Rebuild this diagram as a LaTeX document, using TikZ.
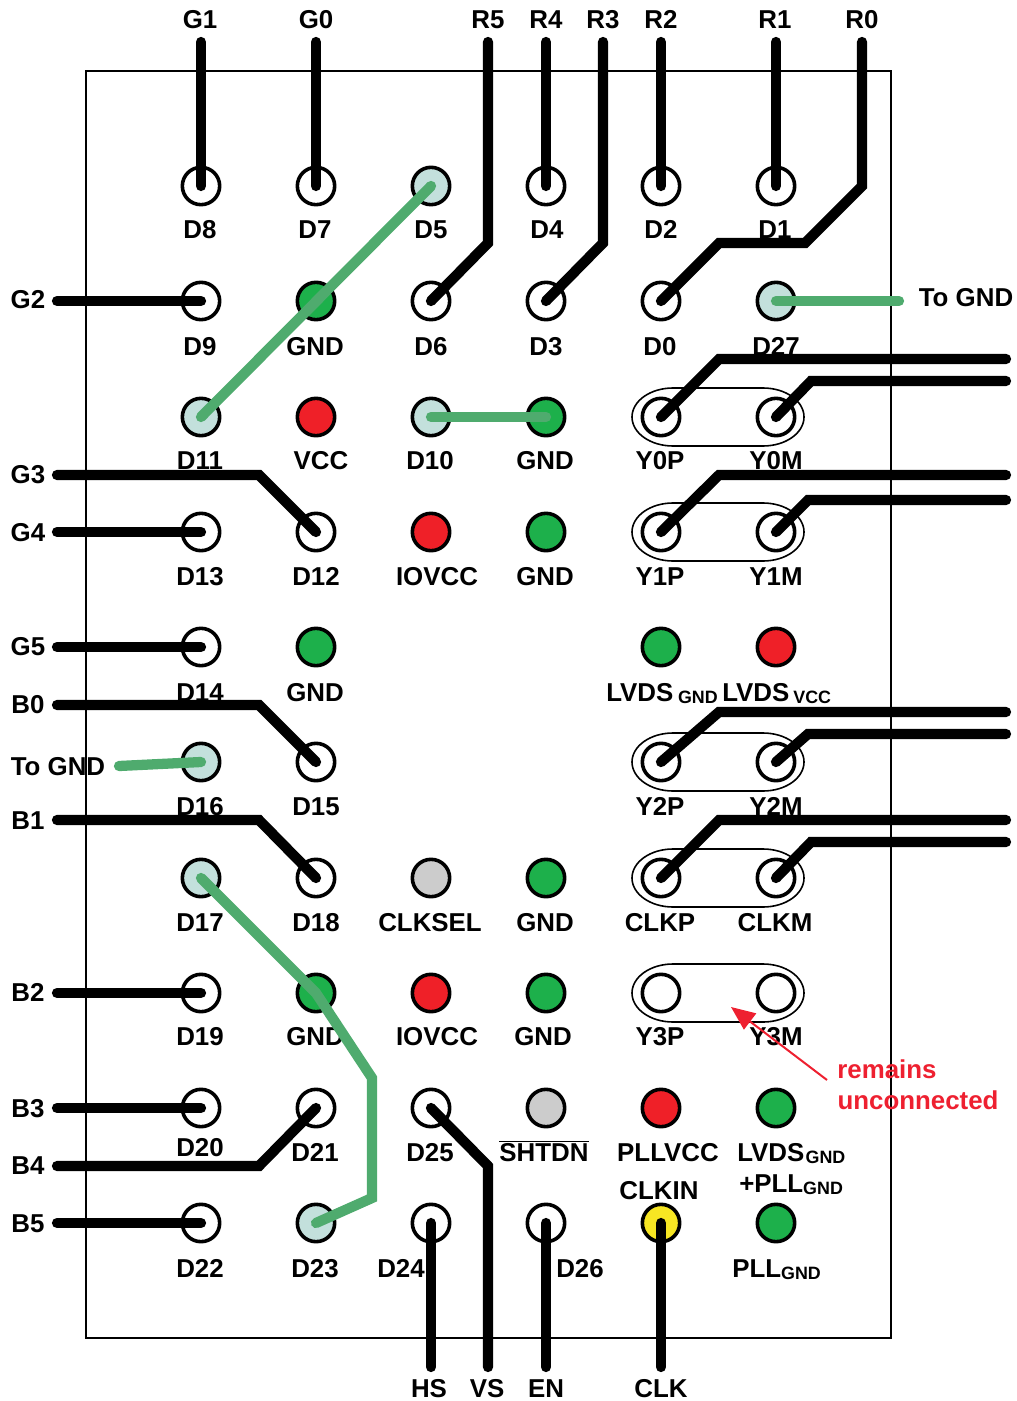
\documentclass[tikz,border=0pt]{standalone}
\usepackage{fontspec}
\setmainfont{Liberation Sans}
\usetikzlibrary{arrows.meta}
\definecolor{padgreen}{HTML}{1DB04B}
\definecolor{padred}{HTML}{EF2028}
\definecolor{padgrey}{HTML}{CCCCCC}
\definecolor{padyellow}{HTML}{F7E623}
\definecolor{padpale}{HTML}{C3E0DC}
\definecolor{wiregreen}{HTML}{4FAB6E}
\definecolor{notered}{HTML}{EE2030}
\newcommand{\subtxt}[1]{\raisebox{-2.2pt}{\fontsize{13.4}{13.4}\selectfont #1}}
\newcommand{\pairloop}[2]{\draw[pairline] ([shift={(12,-29)}]#1.center) -- ([shift={(-13,-29)}]#2.center)
  arc[start angle=-90,end angle=90,x radius=41,y radius=29]
  -- ([shift={(12,29)}]#1.center)
  arc[start angle=90,end angle=270,x radius=41,y radius=29] -- cycle;}
\tikzset{
  frameline/.style={draw=black,line width=1.9pt},
  pad/.style={circle,draw=black,line width=2.7pt,minimum size=28pt,inner sep=0pt},
  lab/.style={font=\fontsize{19.4}{19.4}\selectfont\bfseries,anchor=base,inner sep=0pt},
  labw/.style={lab,anchor=base west},
  redlab/.style={lab,text=notered},
  wire/.style={draw=black,line width=7.7pt,line cap=round,line join=miter},
  gwire/.style={draw=wiregreen,line width=7.7pt,line cap=round,line join=miter},
  pairline/.style={draw=black,line width=1.2pt},
  notearrow/.style={draw=notered,line width=1.5pt,-{Triangle[length=18pt,width=15pt]}}
}
\begin{document}
\begin{tikzpicture}[x=0.75pt,y=-0.75pt]
\useasboundingbox (0,0) rectangle (1016,1401);
\node[draw=none,inner sep=0pt,minimum width=603.75pt,minimum height=950.25pt,frameline] (board) at (488.5,704.5) {};

% labels
\foreach \n/\x/\y/\t in {
 lg1/200/29/G1, lg0/316/29/G0, lr5/488/29/R5, lr4/546/29/R4, lr3/603/29/R3, lr2/661/29/R2, lr1/775/29/R1, lr0/862/29/R0,
 ld8/200/239/D8, ld7/315/239/D7, ld5/431/239/D5, ld4/547/239/D4, ld2/661/239/D2, ld1/775/239/D1,
 lg2/28/309/G2, ld9/200/355/D9, lgnda/315/355/GND, ld6/431/355/D6, ld3/546/355/D3, ld0/660/355/D0, ld27/776/355/D27, ltoa/966/306/To GND,
 ld11/200/469/D11, lvcc/321/469/VCC, ld10/430/469/D10, lgndb/545/469/GND, ly0p/660/469/Y0P, ly0m/776/469/Y0M,
 lg3/28/483/G3, lg4/28/541/G4, ld13/200/585/D13, ld12/316/585/D12, liova/437/585/IOVCC, lgndc/545/585/GND, ly1p/660/585/Y1P, ly1m/776/585/Y1M,
 lg5/28/655/G5, ld14/200/701/D14, lgndd/315/701/GND,
 lb0/28/713/B0, ltob/58/775/To GND, ld16/200/815/D16, ld15/316/815/D15, ly2p/660/815/Y2P, ly2m/776/815/Y2M, lb1/28/829/B1,
 ld17/200/931/D17, ld18/316/931/D18, lcks/430/931/CLKSEL, lgnde/545/931/GND, lckp/660/931/CLKP, lckm/775/931/CLKM,
 lb2/28/1001/B2, ld19/200/1045/D19, lgndf/315/1045/GND, liovb/437/1045/IOVCC, lgndg/543/1045/GND, ly3p/660/1045/Y3P, ly3m/776/1045/Y3M,
 lb3/28/1117/B3, lb4/28/1174/B4, lb5/28/1232/B5, ld20/200/1156/D20, ld21/315/1161/D21, ld25/430/1161/D25, lpllv/668/1161/PLLVCC, lckin/659/1199/CLKIN,
 ld22/200/1277/D22, ld23/315/1277/D23, ld24/401/1277/D24, ld26/580/1277/D26,
 lhs/429/1397/HS, lvs/487/1397/VS, len/546/1397/EN, lclk/661/1397/CLK}
 {\node[lab] (\n) at (\x,\y) {\t};}
\node[lab] (lshtdn) at (544,1161) {$\overline{\hbox{SHTDN}}$};
\node[labw] (llvga) at (606,701) {LVDS\hspace{3.5pt}\subtxt{GND}};
\node[labw] (llvvc) at (722,701) {LVDS\hspace{3pt}\subtxt{VCC}};
\node[labw] (llvgb) at (737,1161) {LVDS\hspace{1pt}\subtxt{GND}};
\node[labw] (lpllp) at (739,1192) {+PLL\subtxt{GND}};
\node[labw] (lpllg) at (732,1277) {PLL\subtxt{GND}};

% pads
\foreach \n/\x/\y/\c in {
 d8/201/186/white, d7/316/186/white, d5/431/186/padpale, d4/546/186/white, d2/661/186/white, d1/776/186/white,
 d9/201/301/white, gnda/316/301/padgreen, d6/431/301/white, d3/546/301/white, d0/661/301/white, d27/776/301/padpale,
 d11/201/417/padpale, vcc/316/417/padred, d10/431/417/padpale, gndb/546/417/padgreen, y0p/661/417/white, y0m/776/417/white,
 d13/201/532/white, d12/316/532/white, iova/431/532/padred, gndc/546/532/padgreen, y1p/661/532/white, y1m/776/532/white,
 d14/201/647/white, gndd/316/647/padgreen, lvga/661/647/padgreen, lvvc/776/647/padred,
 d16/201/762/padpale, d15/316/762/white, y2p/661/762/white, y2m/776/762/white,
 d17/201/878/padpale, d18/316/878/white, cks/431/878/padgrey, gnde/546/878/padgreen, ckp/661/878/white, ckm/776/878/white,
 d19/201/993/white, gndf/316/993/padgreen, iovb/431/993/padred, gndg/546/993/padgreen, y3p/661/993/white, y3m/776/993/white,
 d20/201/1108/white, d21/316/1108/white, d25/431/1108/white, shtdn/546/1108/padgrey, pllv/661/1108/padred, lvgb/776/1108/padgreen,
 d22/201/1223/white, d23/316/1223/padpale, d24/431/1223/white, d26/546/1223/white, ckin/661/1223/padyellow, pllg/776/1223/padgreen}
 {\node[pad,fill=\c] (\n) at (\x,\y) {};}

% differential pair outlines
\pairloop{y0p}{y0m}
\pairloop{y1p}{y1m}
\pairloop{y2p}{y2m}
\pairloop{ckp}{ckm}
\pairloop{y3p}{y3m}

% free wire ends
\foreach \n/\x/\y in {
 eg1/201/42, eg0/316/42, er5/488/42, er4/546/42, er3/603/42, er2/661/42, er1/776/42, er0/862/42,
 eg2/57/301, eg3/57/475, eg4/57/532, eg5/57/647, eb0/57/705, eb1/57/820, eb2/57/993, eb3/57/1108, eb4/57/1166, eb5/57/1223,
 ey0p/1006/359, ey0m/1006/381, ey1p/1006/475, ey1m/1006/500, ey2p/1006/712, ey2m/1006/734, eckp/1006/820, eckm/1006/842,
 ehs/431/1367, evs/488/1367, een/546/1367, eclk/661/1367,
 etoa/899/301, etob/119/766, enote/827/1080, tnote/731/1007}
 {\coordinate (\n) at (\x,\y);}

% black wires
\draw[wire] (eg1) -- (d8.center);
\draw[wire] (eg0) -- (d7.center);
\draw[wire] (er5) -- (488,243) -- (d6.center);
\draw[wire] (er4) -- (d4.center);
\draw[wire] (er3) -- (603,243) -- (d3.center);
\draw[wire] (er2) -- (d2.center);
\draw[wire] (er1) -- (d1.center);
\draw[wire] (er0) -- (862,186) -- (805,243) -- (719,243) -- (d0.center);
\draw[wire] (eg2) -- (d9.center);
\draw[wire] (eg3) -- (259,475) -- (d12.center);
\draw[wire] (eg4) -- (d13.center);
\draw[wire] (eg5) -- (d14.center);
\draw[wire] (eb0) -- (259,705) -- (d15.center);
\draw[wire] (eb1) -- (259,820) -- (d18.center);
\draw[wire] (eb2) -- (d19.center);
\draw[wire] (eb3) -- (d20.center);
\draw[wire] (eb4) -- (259,1166) -- (d21.center);
\draw[wire] (eb5) -- (d22.center);
\draw[wire] (ey0p) -- (719,359) -- (y0p.center);
\draw[wire] (ey0m) -- (811,381) -- (y0m.center);
\draw[wire] (ey1p) -- (719,475) -- (y1p.center);
\draw[wire] (ey1m) -- (808,500) -- (y1m.center);
\draw[wire] (ey2p) -- (719,712) -- (y2p.center);
\draw[wire] (ey2m) -- (808,734) -- (y2m.center);
\draw[wire] (eckp) -- (719,820) -- (ckp.center);
\draw[wire] (eckm) -- (811,842) -- (ckm.center);
\draw[wire] (ehs) -- (d24.center);
\draw[wire] (evs) -- (488,1166) -- (d25.center);
\draw[wire] (een) -- (d26.center);
\draw[wire] (eclk) -- (ckin.center);

% green straps
\draw[gwire] (d5.center) -- (d11.center);
\draw[gwire] (d10.center) -- (gndb.center);
\draw[gwire] (d27.center) -- (etoa);
\draw[gwire] (d16.center) -- (etob);
\draw[gwire] (d17.center) -- (gndf.center) -- (372,1078) -- (372,1198) -- (d23.center);

% note
\node[redlab] (nrem) at (887,1078) {remains};
\node[redlab] (nunc) at (918,1109) {unconnected};
\draw[notearrow] (enote) -- (tnote);
\end{tikzpicture}
\end{document}
